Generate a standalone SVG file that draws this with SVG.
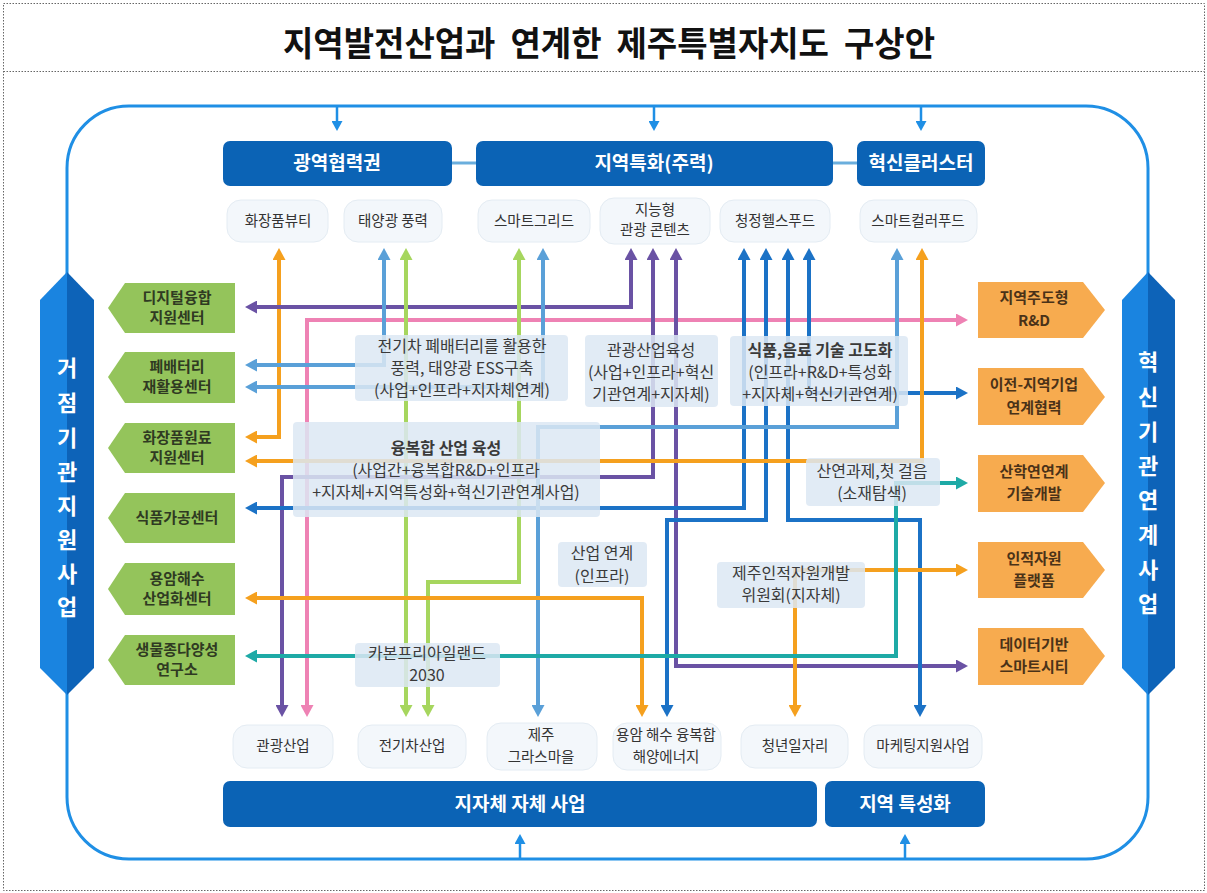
<svg xmlns="http://www.w3.org/2000/svg" width="1207" height="893" viewBox="0 0 1207 893">
<style>
text{font-family:'Noto Sans CJK KR','Noto Sans',sans-serif;}
.title{font-size:34px;font-weight:700;fill:#111;}
.bar{fill:#0b63b5;}
.bart{font-size:19px;font-weight:700;fill:#fff;text-anchor:middle;}
.pill{fill:#f3f7fb;stroke:#e4ecf3;stroke-width:1;}
.pillt{font-size:14.5px;fill:#333;text-anchor:middle;}
.grn{fill:#94c45b;}
.grnt{font-size:15px;font-weight:700;fill:#2f3a22;text-anchor:middle;}
.org{fill:#f7ab4f;}
.orgt{font-size:15px;font-weight:700;fill:#4a3218;text-anchor:middle;}
.lbl{fill:#dce7f3;fill-opacity:0.85;}
.lblt{font-size:16px;fill:#3a3a3a;text-anchor:middle;}
.lbls{font-size:15px;fill:#3a3a3a;text-anchor:middle;}
.b{font-weight:700;}
.vt{font-size:22px;font-weight:700;fill:#fff;text-anchor:middle;}
.ln{fill:none;stroke-width:4;}
.frame{fill:none;stroke:#1f8fe5;stroke-width:3;}
.farr{fill:none;stroke:#1f8fe5;stroke-width:2.5;}
</style>
<defs>
<marker id="m-or" viewBox="0 0 12 13" markerWidth="12" markerHeight="13" refX="6" refY="6.5" orient="auto-start-reverse" markerUnits="userSpaceOnUse"><path d="M0,0 L12,6.5 L0,13 z" fill="#f5a01e"/></marker>
<marker id="m-pu" viewBox="0 0 12 13" markerWidth="12" markerHeight="13" refX="6" refY="6.5" orient="auto-start-reverse" markerUnits="userSpaceOnUse"><path d="M0,0 L12,6.5 L0,13 z" fill="#6a52a4"/></marker>
<marker id="m-pk" viewBox="0 0 12 13" markerWidth="12" markerHeight="13" refX="6" refY="6.5" orient="auto-start-reverse" markerUnits="userSpaceOnUse"><path d="M0,0 L12,6.5 L0,13 z" fill="#ee82b4"/></marker>
<marker id="m-st" viewBox="0 0 12 13" markerWidth="12" markerHeight="13" refX="6" refY="6.5" orient="auto-start-reverse" markerUnits="userSpaceOnUse"><path d="M0,0 L12,6.5 L0,13 z" fill="#5aa0d8"/></marker>
<marker id="m-gr" viewBox="0 0 12 13" markerWidth="12" markerHeight="13" refX="6" refY="6.5" orient="auto-start-reverse" markerUnits="userSpaceOnUse"><path d="M0,0 L12,6.5 L0,13 z" fill="#a6d65e"/></marker>
<marker id="m-bl" viewBox="0 0 12 13" markerWidth="12" markerHeight="13" refX="6" refY="6.5" orient="auto-start-reverse" markerUnits="userSpaceOnUse"><path d="M0,0 L12,6.5 L0,13 z" fill="#1b72c6"/></marker>
<marker id="m-tl" viewBox="0 0 12 13" markerWidth="12" markerHeight="13" refX="6" refY="6.5" orient="auto-start-reverse" markerUnits="userSpaceOnUse"><path d="M0,0 L12,6.5 L0,13 z" fill="#1eaaa6"/></marker>
<marker id="m-fr" viewBox="0 0 10 11" markerWidth="10" markerHeight="11" refX="5" refY="5.5" orient="auto" markerUnits="userSpaceOnUse"><path d="M0,0 L10,5.5 L0,11 z" fill="#1f8fe5"/></marker>
</defs>
<rect x="0" y="0" width="1207" height="893" fill="#fff"/>
<rect x="3.5" y="3.5" width="1201" height="887" fill="none" stroke="#666" stroke-width="1" stroke-dasharray="1.5 1.5"/>
<line x1="3.5" y1="71.5" x2="1204.5" y2="71.5" stroke="#666" stroke-width="1" stroke-dasharray="1.5 1.5"/>
<text class="title" x="283" y="56" textLength="652" lengthAdjust="spacingAndGlyphs" xml:space="preserve">지역발전산업과  연계한  제주특별자치도  구상안</text>

<g id="frame">
<rect class="frame" x="67" y="106" width="1081" height="753" rx="62" ry="62"/>
<path class="farr" d="M337,106 L337,126" marker-end="url(#m-fr)"/>
<path class="farr" d="M654,106 L654,126" marker-end="url(#m-fr)"/>
<path class="farr" d="M921,106 L921,126" marker-end="url(#m-fr)"/>
<path class="farr" d="M520,859 L520,839" marker-end="url(#m-fr)"/>
<path class="farr" d="M905,859 L905,839" marker-end="url(#m-fr)"/>
<line x1="452" y1="163" x2="476" y2="163" stroke="#6aaedd" stroke-width="3"/>
<line x1="833" y1="163" x2="857" y2="163" stroke="#6aaedd" stroke-width="3"/>
</g>

<g id="connectors">
<path class="ln" stroke="#f5a01e" d="M251,437 L279,437 L279,254" marker-start="url(#m-or)" marker-end="url(#m-or)"/>
<path class="ln" stroke="#6a52a4" d="M251,307 L631,307 L631,254" marker-start="url(#m-pu)" marker-end="url(#m-pu)"/>
<path class="ln" stroke="#ee82b4" d="M307,711 L307,320 L962,320" marker-start="url(#m-pk)" marker-end="url(#m-pk)"/>
<path class="ln" stroke="#5aa0d8" d="M251,365 L384,365 L384,254" marker-start="url(#m-st)" marker-end="url(#m-st)"/>
<path class="ln" stroke="#5aa0d8" d="M251,387 L543,387 L543,254" marker-start="url(#m-st)" marker-end="url(#m-st)"/>
<path class="ln" stroke="#a6d65e" d="M406,254 L406,711" marker-start="url(#m-gr)" marker-end="url(#m-gr)"/>
<path class="ln" stroke="#a6d65e" d="M519,254 L519,582 L428,582 L428,711" marker-start="url(#m-gr)" marker-end="url(#m-gr)"/>
<path class="ln" stroke="#6a52a4" d="M653,254 L653,477 L282,477 L282,711" marker-start="url(#m-pu)" marker-end="url(#m-pu)"/>
<path class="ln" stroke="#6a52a4" d="M676,254 L676,666 L962,666" marker-start="url(#m-pu)" marker-end="url(#m-pu)"/>
<path class="ln" stroke="#1b72c6" d="M744,254 L744,508 L251,508" marker-start="url(#m-bl)" marker-end="url(#m-bl)"/>
<path class="ln" stroke="#1b72c6" d="M766,254 L766,520 L667,520 L667,711" marker-start="url(#m-bl)" marker-end="url(#m-bl)"/>
<path class="ln" stroke="#1b72c6" d="M788,254 L788,520 L920,520 L920,711" marker-start="url(#m-bl)" marker-end="url(#m-bl)"/>
<path class="ln" stroke="#1b72c6" d="M809,254 L809,393 L962,393" marker-start="url(#m-bl)" marker-end="url(#m-bl)"/>
<path class="ln" stroke="#5aa0d8" d="M897,254 L897,427 L538,427 L538,711" marker-start="url(#m-st)" marker-end="url(#m-st)"/>
<path class="ln" stroke="#f5a01e" d="M922,254 L922,461 L251,461" marker-start="url(#m-or)" marker-end="url(#m-or)"/>
<path class="ln" stroke="#f5a01e" d="M251,598 L642,598 L642,711" marker-start="url(#m-or)" marker-end="url(#m-or)"/>
<path class="ln" stroke="#f5a01e" d="M962,570 L795,570 L795,711" marker-start="url(#m-or)" marker-end="url(#m-or)"/>
<path class="ln" stroke="#1eaaa6" d="M251,656 L896,656 L896,483 L962,483" marker-start="url(#m-tl)" marker-end="url(#m-tl)"/>
</g>

<g id="banner-left">
<polygon points="40,300 67,272 67,695 40,668" fill="#1a84e0"/>
<polygon points="67,272 94,300 94,668 67,695" fill="#0d63b8"/>
<text class="vt" x="67" y="376">거</text>
<text class="vt" x="67" y="411">점</text>
<text class="vt" x="67" y="446">기</text>
<text class="vt" x="67" y="480">관</text>
<text class="vt" x="67" y="514">지</text>
<text class="vt" x="67" y="548">원</text>
<text class="vt" x="67" y="582">사</text>
<text class="vt" x="67" y="615">업</text>
</g>
<g id="banner-right">
<polygon points="1122,300 1148,272 1148,695 1122,668" fill="#1a84e0"/>
<polygon points="1148,272 1175,300 1175,668 1148,695" fill="#0d63b8"/>
<text class="vt" x="1148" y="370">혁</text>
<text class="vt" x="1148" y="405">신</text>
<text class="vt" x="1148" y="440">기</text>
<text class="vt" x="1148" y="474">관</text>
<text class="vt" x="1148" y="508">연</text>
<text class="vt" x="1148" y="543">계</text>
<text class="vt" x="1148" y="578">사</text>
<text class="vt" x="1148" y="612">업</text>
</g>

<g id="bar-gwangyeok"><rect class="bar" x="223" y="141" width="229" height="45" rx="7"/><text class="bart" x="337" y="170">광역협력권</text></g>
<g id="bar-jiyeok"><rect class="bar" x="476" y="141" width="357" height="45" rx="7"/><text class="bart" x="654" y="170">지역특화(주력)</text></g>
<g id="bar-hyeoksin"><rect class="bar" x="857" y="141" width="128" height="45" rx="7"/><text class="bart" x="921" y="170">혁신클러스터</text></g>
<g id="bar-jijache"><rect class="bar" x="223" y="781" width="594" height="46" rx="7"/><text class="bart" x="520" y="811">지자체 자체 사업</text></g>
<g id="bar-teukseong"><rect class="bar" x="825" y="781" width="160" height="46" rx="7"/><text class="bart" x="905" y="811">지역 특성화</text></g>

<g id="p-beauty"><rect class="pill" x="227" y="200" width="101" height="42" rx="14"/><text class="pillt" x="278" y="226">화장품뷰티</text></g>
<g id="p-solar"><rect class="pill" x="344" y="200" width="98" height="42" rx="14"/><text class="pillt" x="393" y="226">태양광 풍력</text></g>
<g id="p-grid"><rect class="pill" x="478" y="200" width="112" height="42" rx="14"/><text class="pillt" x="534" y="226">스마트그리드</text></g>
<g id="p-tour"><rect class="pill" x="600" y="198" width="110" height="46" rx="14"/><text class="pillt" x="655" y="215">지능형</text><text class="pillt" x="655" y="235">관광 콘텐츠</text></g>
<g id="p-health"><rect class="pill" x="720" y="200" width="110" height="42" rx="14"/><text class="pillt" x="775" y="226">청정헬스푸드</text></g>
<g id="p-color"><rect class="pill" x="860" y="200" width="117" height="42" rx="14"/><text class="pillt" x="918" y="226">스마트컬러푸드</text></g>

<g id="p-tourism"><rect class="pill" x="233" y="725" width="100" height="43" rx="14"/><text class="pillt" x="283" y="751">관광산업</text></g>
<g id="p-ev"><rect class="pill" x="358" y="725" width="108" height="43" rx="14"/><text class="pillt" x="412" y="751">전기차산업</text></g>
<g id="p-grass"><rect class="pill" x="487" y="723" width="110" height="47" rx="14"/><text class="pillt" x="541" y="740">제주</text><text class="pillt" x="541" y="762">그라스마을</text></g>
<g id="p-lava"><rect class="pill" x="613" y="723" width="108" height="47" rx="14"/><text class="pillt" x="666" y="740">용암 해수 융복합</text><text class="pillt" x="666" y="762">해양에너지</text></g>
<g id="p-youth"><rect class="pill" x="741" y="725" width="107" height="43" rx="14"/><text class="pillt" x="795" y="751">청년일자리</text></g>
<g id="p-marketing"><rect class="pill" x="864" y="725" width="118" height="43" rx="14"/><text class="pillt" x="923" y="751">마케팅지원사업</text></g>

<g id="g-digital"><polygon class="grn" points="108,308 125,283 235,283 235,333 125,333"/><text class="grnt" x="177" y="303">디지털융합</text><text class="grnt" x="177" y="323">지원센터</text></g>
<g id="g-battery"><polygon class="grn" points="108,377 125,352 235,352 235,403 125,403"/><text class="grnt" x="177" y="372">폐배터리</text><text class="grnt" x="177" y="392">재활용센터</text></g>
<g id="g-cosmetic"><polygon class="grn" points="108,448 125,423 235,423 235,473 125,473"/><text class="grnt" x="177" y="443">화장품원료</text><text class="grnt" x="177" y="463">지원센터</text></g>
<g id="g-food"><polygon class="grn" points="108,518 125,493 235,493 235,543 125,543"/><text class="grnt" x="177" y="523">식품가공센터</text></g>
<g id="g-lava"><polygon class="grn" points="108,589 125,563 235,563 235,615 125,615"/><text class="grnt" x="177" y="584">용암해수</text><text class="grnt" x="177" y="604">산업화센터</text></g>
<g id="g-bio"><polygon class="grn" points="108,660 125,635 235,635 235,685 125,685"/><text class="grnt" x="177" y="655">생물종다양성</text><text class="grnt" x="177" y="675">연구소</text></g>

<g id="o-rnd"><polygon class="org" points="978,282 1083,282 1105,310 1083,338 978,338"/><text class="orgt" x="1034" y="303">지역주도형</text><text class="orgt" x="1034" y="326">R&amp;D</text></g>
<g id="o-transfer"><polygon class="org" points="978,368 1083,368 1105,397 1083,425 978,425"/><text class="orgt" x="1034" y="390">이전-지역기업</text><text class="orgt" x="1034" y="413">연계협력</text></g>
<g id="o-industry"><polygon class="org" points="978,455 1083,455 1105,483 1083,512 978,512"/><text class="orgt" x="1034" y="477">산학연연계</text><text class="orgt" x="1034" y="499">기술개발</text></g>
<g id="o-hr"><polygon class="org" points="978,542 1083,542 1105,570 1083,598 978,598"/><text class="orgt" x="1034" y="564">인적자원</text><text class="orgt" x="1034" y="586">플랫폼</text></g>
<g id="o-city"><polygon class="org" points="978,628 1083,628 1105,656 1083,685 978,685"/><text class="orgt" x="1034" y="650">데이터기반</text><text class="orgt" x="1034" y="672">스마트시티</text></g>

<g id="l-ess"><rect class="lbl" x="355" y="335" width="213" height="66" rx="4"/><text class="lblt" x="462" y="352">전기차 폐배터리를 활용한</text><text class="lblt" x="462" y="374">풍력, 태양광 ESS구축</text><text class="lblt" x="462" y="396">(사업+인프라+지자체연계)</text></g>
<g id="l-tour"><rect class="lbl" x="585" y="335" width="133" height="72" rx="4"/><text class="lblt" x="651" y="356">관광산업육성</text><text class="lblt" x="651" y="378">(사업+인프라+혁신</text><text class="lblt" x="651" y="400">기관연계+지자체)</text></g>
<g id="l-food"><rect class="lbl" x="730" y="336" width="178" height="70" rx="4"/><text class="lblt b" x="820" y="356">식품,음료 기술 고도화</text><text class="lblt" x="820" y="378">(인프라+R&amp;D+특성화</text><text class="lblt" x="820" y="400">+지자체+혁신기관연계)</text></g>
<g id="l-convergence"><rect class="lbl" x="293" y="422" width="307" height="95" rx="4"/><text class="lblt b" x="446" y="454">융복합 산업 육성</text><text class="lblt" x="446" y="476">(사업간+융복합R&amp;D+인프라</text><text class="lblt" x="446" y="498">+지자체+지역특성화+혁신기관연계사업)</text></g>
<g id="l-first"><rect class="lbl" x="806" y="458" width="134" height="48" rx="4"/><text class="lblt" x="872" y="477">산연과제,첫 걸음</text><text class="lblt" x="872" y="499">(소재탐색)</text></g>
<g id="l-link"><rect class="lbl" x="558" y="542" width="89" height="45" rx="4"/><text class="lblt" x="602" y="559">산업 연계</text><text class="lblt" x="602" y="582">(인프라)</text></g>
<g id="l-hrd"><rect class="lbl" x="717" y="562" width="148" height="46" rx="4"/><text class="lblt" x="791" y="579">제주인적자원개발</text><text class="lblt" x="791" y="601">위원회(지자체)</text></g>
<g id="l-carbon"><rect class="lbl" x="355" y="643" width="145" height="44" rx="4"/><text class="lblt" x="427" y="659">카본프리아일랜드</text><text class="lblt" x="427" y="681">2030</text></g>
</svg>
